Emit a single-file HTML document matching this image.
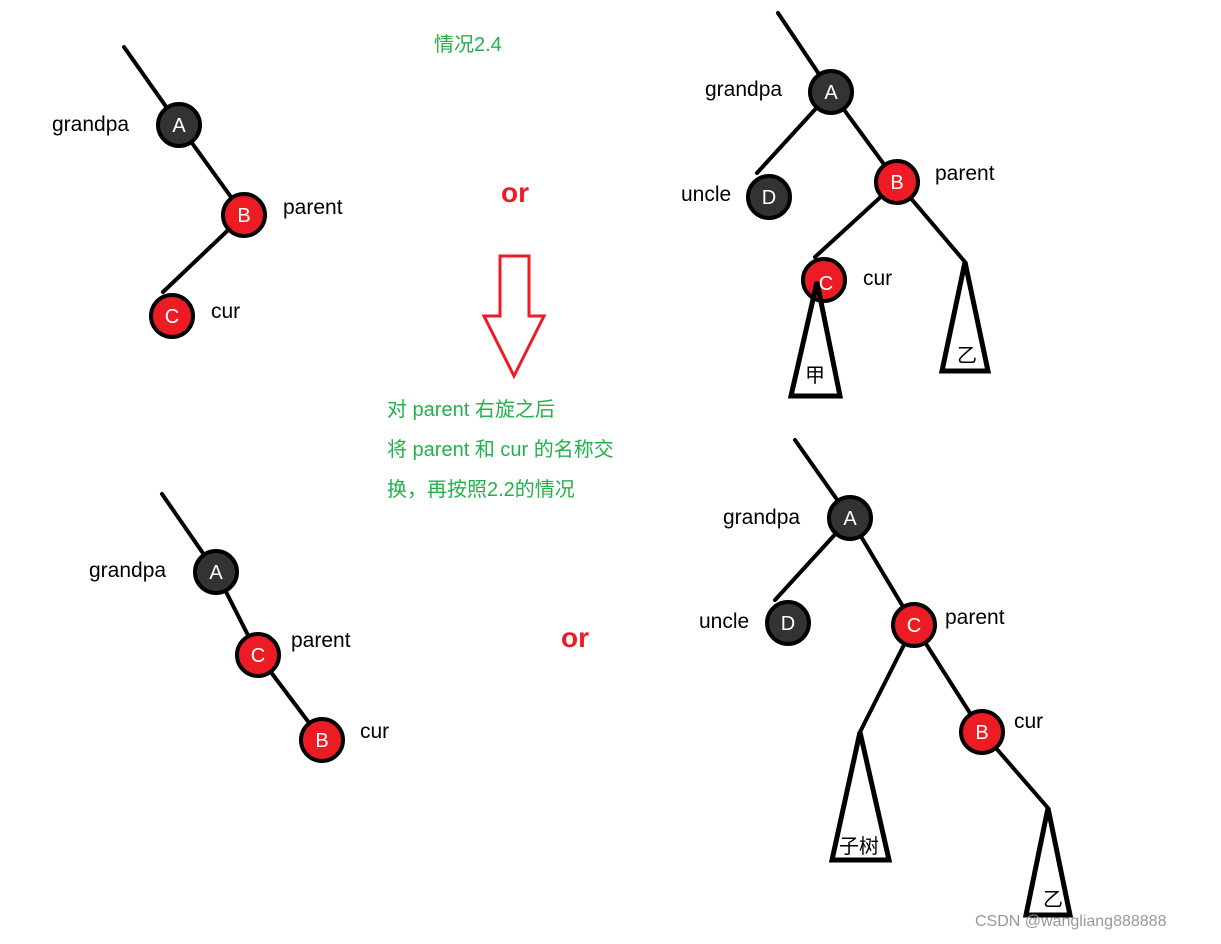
<!DOCTYPE html>
<html><head><meta charset="utf-8"><style>
html,body{margin:0;padding:0;background:#fff;}
svg text{font-family:"Liberation Sans","Noto Sans CJK SC",sans-serif;}
</style></head><body>
<svg width="1221" height="939" viewBox="0 0 1221 939" xmlns="http://www.w3.org/2000/svg">
<g stroke="#000" stroke-width="4" fill="none" stroke-linecap="round" stroke-linejoin="round">
<!-- top-left -->
<line x1="124" y1="47" x2="179" y2="125"/><line x1="179" y1="125" x2="244" y2="215"/><line x1="244" y1="215" x2="163" y2="292"/>
<!-- top-right -->
<line x1="778" y1="13" x2="831" y2="92"/><line x1="831" y1="92" x2="757" y2="173"/><line x1="831" y1="92" x2="897" y2="182"/>
<line x1="897" y1="182" x2="815" y2="257"/><line x1="897" y1="182" x2="965" y2="262"/>
<!-- bottom-left -->
<line x1="162" y1="494" x2="216" y2="572"/><line x1="216" y1="572" x2="258" y2="655"/><line x1="258" y1="655" x2="322" y2="740"/>
<!-- bottom-right -->
<line x1="795" y1="440" x2="850" y2="518"/><line x1="850" y1="518" x2="775" y2="600"/><line x1="850" y1="518" x2="914" y2="625"/>
<line x1="914" y1="625" x2="860" y2="732"/><line x1="914" y1="625" x2="982" y2="732"/><line x1="982" y1="732" x2="1048" y2="808"/>
</g>
<g stroke="#000" stroke-width="4">
<circle cx="179" cy="125" r="21" fill="#333"/><circle cx="244" cy="215" r="21" fill="#ed1c24"/><circle cx="172" cy="316" r="21" fill="#ed1c24"/>
<circle cx="831" cy="92" r="21" fill="#333"/><circle cx="769" cy="197" r="21" fill="#333"/><circle cx="897" cy="182" r="21" fill="#ed1c24"/><circle cx="824" cy="280" r="21" fill="#ed1c24"/>
<circle cx="216" cy="572" r="21" fill="#333"/><circle cx="258" cy="655" r="21" fill="#ed1c24"/><circle cx="322" cy="740" r="21" fill="#ed1c24"/>
<circle cx="850" cy="518" r="21" fill="#333"/><circle cx="788" cy="623" r="21" fill="#333"/><circle cx="914" cy="625" r="21" fill="#ed1c24"/><circle cx="982" cy="732" r="21" fill="#ed1c24"/>
</g>
<g stroke="#000" stroke-width="5" fill="none" stroke-linejoin="miter">
<polygon points="817,282 791,396 840,396"/><polygon points="965,262 942,371 988,371"/>
<polygon points="860,732 832,860 889,860"/><polygon points="1048,808 1026,915 1070,915"/>
</g>
<g fill="#fff" font-size="20" text-anchor="middle">
<text x="179" y="132">A</text><text x="244" y="222">B</text><text x="172" y="323">C</text>
<text x="831" y="99">A</text><text x="769" y="204">D</text><text x="897" y="189">B</text><text x="826" y="290">C</text>
<text x="216" y="579">A</text><text x="258" y="662">C</text><text x="322" y="747">B</text>
<text x="850" y="525">A</text><text x="788" y="630">D</text><text x="914" y="632">C</text><text x="982" y="739">B</text>
</g>
<g fill="#000" font-size="21">
<text x="52" y="131">grandpa</text><text x="283" y="214">parent</text><text x="211" y="318">cur</text>
<text x="705" y="96">grandpa</text><text x="681" y="201">uncle</text><text x="935" y="180">parent</text><text x="863" y="285">cur</text>
<text x="89" y="577">grandpa</text><text x="291" y="647">parent</text><text x="360" y="738">cur</text>
<text x="723" y="524">grandpa</text><text x="699" y="628">uncle</text><text x="945" y="624">parent</text><text x="1014" y="728">cur</text>
</g>
<g fill="#000" font-size="20" text-anchor="middle">
<text x="815" y="382">甲</text><text x="967" y="362">乙</text><text x="859" y="853">子树</text><text x="1053" y="906">乙</text>
</g>
<g fill="#ed1c24" font-size="28" font-weight="bold" text-anchor="middle">
<text x="515" y="202">or</text><text x="575" y="647">or</text>
</g>
<polygon points="500,256 529,256 529,316 544,316 514,376 484,316 500,316" fill="none" stroke="#ed1c24" stroke-width="3"/>
<g fill="#22b14c" font-size="20">
<text x="434" y="51">情况2.4</text>
<text x="387" y="416">对 parent 右旋之后</text>
<text x="387" y="456">将 parent 和 cur 的名称交</text>
<text x="387" y="496">换，再按照2.2的情况</text>
</g>
<text x="975" y="926" fill="#999" font-size="16">CSDN @wangliang888888</text>
</svg>
</body></html>
